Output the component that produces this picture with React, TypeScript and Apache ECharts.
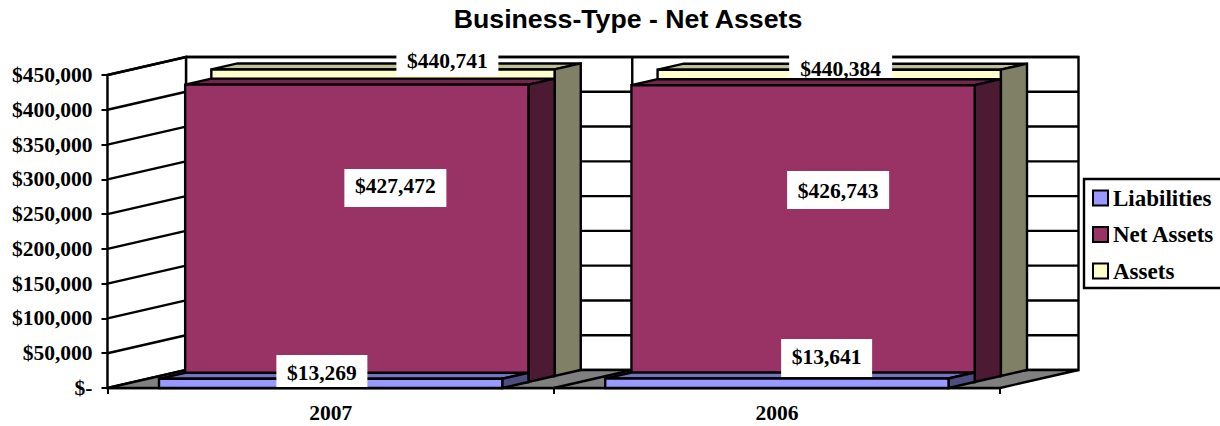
import React, { useEffect, useRef } from "react";
import * as echarts from "echarts";

const titleText = "Business-Type - Net Assets";
const categories = ["2007", "2006"];
const liabilities = [13269, 13641];
const netAssets = [427472, 426743];
const assets = [440741, 440384];
const valueTicks = [0, 50000, 100000, 150000, 200000, 250000, 300000, 350000, 400000, 450000];
const seriesNames = ["Liabilities", "Net Assets", "Assets"];

// drawing style, not data
const DEPTH_X = 78.5;
const DEPTH_Y = 18;
const ROWS = 3;
const GAP_WIDTH = 0.3;
const LINE = 2.4;
const SERIF = '"Liberation Serif", "Times New Roman", serif';
const LABEL_FONT = `bold 21.5px ${SERIF}`;
const faces = [
  { front: "#9999FF", top: "#7373BF", side: "#4D4D80" },
  { front: "#993366", top: "#73264D", side: "#4D1A33" },
  { front: "#FFFFCC", top: "#BFBF99", side: "#808066" },
];
// label boxes, relative to the point (category, value): [dx, dy, width, height, text dy from box centre]
const labelBoxes = [
  [[-8.75, -7.8, 91, 32, 2], [49.75, -20.5, 91, 38, -1]],
  [[64.75, 97.3, 102, 38, -1.5], [61.25, 98.8, 102, 38, 0.7]],
  [[116.75, -24.4, 102, 38, 3.5], [63.75, -22.2, 103, 37, 9.5]],
];

const money = (v: number) => "$" + v.toLocaleString("en-US");

function stroke(fill?: string) {
  return { fill: fill ?? "none", stroke: "#000", lineWidth: LINE, lineJoin: "miter" };
}

function poly(points: number[][], fill: string) {
  return { type: "polygon", shape: { points }, style: stroke(fill) };
}

function line(x1: number, y1: number, x2: number, y2: number) {
  return { type: "line", shape: { x1, y1, x2, y2 }, style: stroke() };
}

function renderPlanes(params: any) {
  const c = params.coordSys;
  const l = c.x, r = c.x + c.width, t = c.y, b = c.y + c.height;
  return {
    type: "group",
    children: [
      poly([[l + DEPTH_X, b - DEPTH_Y], [r + DEPTH_X, b - DEPTH_Y], [r + DEPTH_X, t - DEPTH_Y], [l + DEPTH_X, t - DEPTH_Y]], "#FFFFFF"),
      poly([[l, b], [l + DEPTH_X, b - DEPTH_Y], [l + DEPTH_X, t - DEPTH_Y], [l, t]], "#FFFFFF"),
      poly([[l, b], [r, b], [r + DEPTH_X, b - DEPTH_Y], [l + DEPTH_X, b - DEPTH_Y]], "#808080"),
    ],
  };
}

function renderGridline(params: any, api: any) {
  const c = params.coordSys;
  const y = api.coord([0, api.value(1)])[1];
  if (api.value(1) === 0) return { type: "group", children: [] };
  return {
    type: "group",
    children: [
      line(c.x, y, c.x + DEPTH_X, y - DEPTH_Y),
      line(c.x + DEPTH_X, y - DEPTH_Y, c.x + c.width + DEPTH_X, y - DEPTH_Y),
    ],
  };
}

function renderDivider(params: any, api: any) {
  const c = params.coordSys;
  const band = api.size([1, 0])[0];
  const x = api.coord([api.value(0), 0])[0] + band / 2;
  const b = c.y + c.height;
  return {
    type: "group",
    children: [
      line(x, b, x + DEPTH_X, b - DEPTH_Y),
      line(x + DEPTH_X, b - DEPTH_Y, x + DEPTH_X, c.y - DEPTH_Y),
    ],
  };
}

function barRenderer(row: number) {
  return (_params: any, api: any) => {
    const band = api.size([1, 0])[0];
    const w = band / (1 + GAP_WIDTH);
    const top = api.coord([api.value(0), api.value(1)]);
    const base = api.coord([api.value(0), 0]);
    const sx = (row * DEPTH_X) / ROWS;
    const sy = (row * DEPTH_Y) / ROWS;
    const dx = DEPTH_X / ROWS;
    const dy = DEPTH_Y / ROWS;
    const x0 = top[0] - w / 2 + sx;
    const x1 = x0 + w;
    const yT = top[1] - sy;
    const yB = base[1] - sy;
    const f = faces[row];
    return {
      type: "group",
      children: [
        poly([[x0, yT], [x1, yT], [x1 + dx, yT - dy], [x0 + dx, yT - dy]], f.top),
        poly([[x1, yT], [x1 + dx, yT - dy], [x1 + dx, yB - dy], [x1, yB]], f.side),
        poly([[x0, yT], [x1, yT], [x1, yB], [x0, yB]], f.front),
      ],
    };
  };
}

function labelRenderer(row: number) {
  return (_params: any, api: any) => {
    const i = api.value(0);
    const v = api.value(1);
    const p = api.coord([i, v]);
    const [dx, dy, w, h, ty] = labelBoxes[row][i];
    const cx = p[0] + dx;
    const cy = p[1] + dy;
    return {
      type: "group",
      children: [
        { type: "rect", shape: { x: cx - w / 2, y: cy - h / 2, width: w, height: h }, style: { fill: "#FFFFFF" } },
        {
          type: "text",
          style: { text: money(v), x: cx, y: cy + ty, font: LABEL_FONT, fill: "#000", align: "center", verticalAlign: "middle" },
        },
      ],
    };
  };
}

const rows = [liabilities, netAssets, assets];
const pairs = (vals: number[]) => vals.map((v, i) => [i, v]);

function custom(name: string, data: number[][], renderItem: any, z: number, color?: string) {
  return {
    type: "custom",
    name,
    data,
    renderItem,
    z,
    silent: true,
    clip: false,
    encode: { x: 0, y: 1 },
    ...(color ? { itemStyle: { color, borderColor: "#000", borderWidth: 2.4 } } : {}),
  };
}

export default function App() {
  const ref = useRef<HTMLDivElement>(null);
  useEffect(() => {
    const chart = echarts.init(ref.current!, undefined, { renderer: "svg" });
    chart.setOption({
      animation: false,
      backgroundColor: "#FFFFFF",
      title: {
        text: titleText,
        left: 628,
        top: 0,
        textAlign: "center",
        textStyle: { fontFamily: '"Liberation Sans", Arial, sans-serif', fontWeight: "bold", fontSize: 26.7, color: "#000" },
        padding: [5, 10, 5, 0],
      },
      grid: { left: 107.5, right: 220, top: 75, bottom: 38, containLabel: false },
      legend: {
        data: seriesNames,
        orient: "vertical",
        left: 1084,
        top: 179,
        padding: [7, 25, 5, 8],
        itemWidth: 15,
        itemHeight: 15,
        itemGap: 12.5,
        icon: "rect",
        backgroundColor: "#FFFFFF",
        borderColor: "#000",
        borderWidth: 2.4,
        selectedMode: false,
        textStyle: { fontFamily: SERIF, fontWeight: "bold", fontSize: 23, lineHeight: 24, color: "#000" },
      },
      xAxis: {
        type: "category",
        data: categories,
        boundaryGap: true,
        axisLine: { show: true, lineStyle: { color: "#000", width: 2.4 } },
        axisTick: { show: true, length: 6, lineStyle: { color: "#000", width: 2 } },
        axisLabel: { fontFamily: SERIF, fontWeight: "bold", fontSize: 21.5, color: "#000", margin: 14 },
        splitLine: { show: false },
      },
      yAxis: {
        type: "value",
        min: 0,
        max: 450000,
        interval: 50000,
        axisLine: { show: true, lineStyle: { color: "#000", width: 2.4 } },
        axisTick: { show: true, length: 6, lineStyle: { color: "#000", width: 2 } },
        axisLabel: {
          fontFamily: SERIF,
          fontWeight: "bold",
          fontSize: 21.5,
          color: "#000",
          margin: 15,
          formatter: (v: number) => (v === 0 ? "$-" : money(v)),
        },
        splitLine: { show: false },
      },
      series: [
        custom("planes", [[0, 0]], renderPlanes, 1),
        custom("gridlines", valueTicks.map((t) => [0, t]), renderGridline, 1),
        custom("dividers", [[0, 0]], renderDivider, 1),
        custom(seriesNames[2], pairs(rows[2]), barRenderer(2), 2, faces[2].front),
        custom(seriesNames[1], pairs(rows[1]), barRenderer(1), 3, faces[1].front),
        custom(seriesNames[0], pairs(rows[0]), barRenderer(0), 4, faces[0].front),
        ...rows.map((r, i) => custom(`${seriesNames[i]} labels`, pairs(r), labelRenderer(i), 5)),
      ],
    });
    return () => chart.dispose();
  }, []);
  return <div ref={ref} style={{ position: "absolute", left: 0, top: 0, width: 1220, height: 426 }} />;
}
